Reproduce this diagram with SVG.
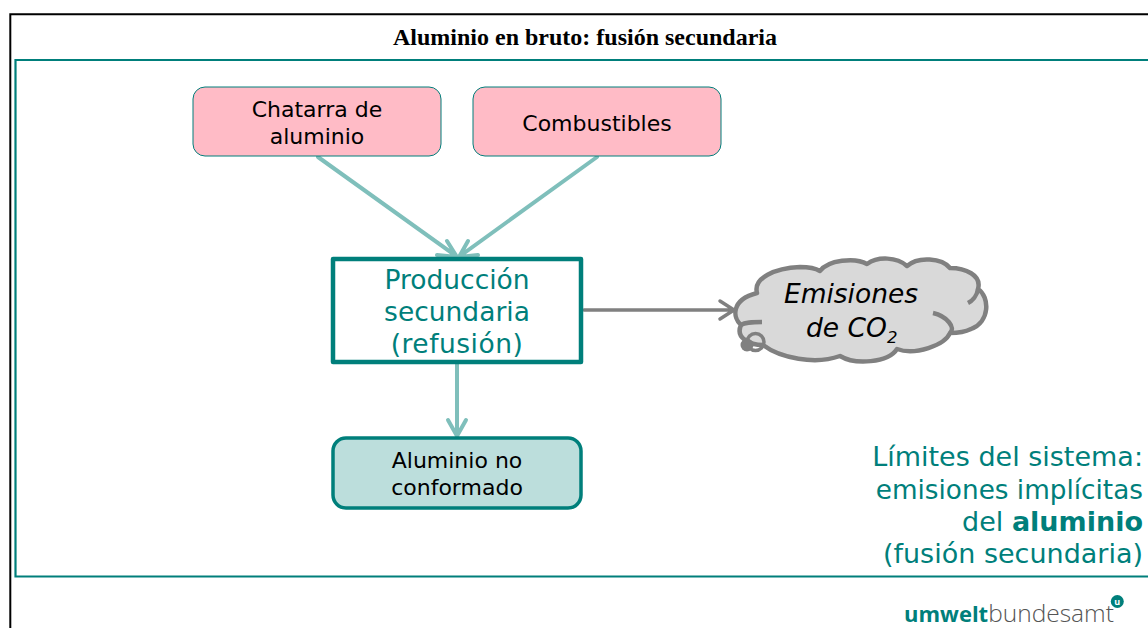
<svg xmlns="http://www.w3.org/2000/svg" width="1148" height="628" viewBox="0 0 1148 628">
<style>
.v{font-family:"DejaVu Sans",Verdana,sans-serif}
.c{text-anchor:middle}
.input{fill:#ffbbc6;stroke:#007f7b;stroke-width:1}
.a1{fill:none;stroke:#7fbfbb;stroke-width:4;stroke-linecap:round;stroke-linejoin:round}
.a2{fill:none;stroke:#808080;stroke-width:3.500;stroke-linecap:round;stroke-linejoin:round}
.teal{fill:#007f7b}
</style>
<rect width="1148" height="628" fill="#fff"/>
<path d="M10.300 628V14.300H1148" fill="none" stroke="#000" stroke-width="2"/>
<text x="585" y="45" class="c" font-family="Liberation Serif" font-weight="bold" font-size="24">Aluminio en bruto: fusión secundaria</text>
<path d="M1148 60H15.500V576.500H1148" fill="none" stroke="#007f7b" stroke-width="2.200"/>
<g id="connectors">
<path class="a1" d="M318 157L456 256M447 241L457 257L437 255"/>
<path class="a1" d="M597 157L460 256M468 241L459 257L478 255"/>
<path class="a1" d="M457 364V435M448 420L457 436L466 420"/>
<path class="a2" d="M584 310H733M720 301L734 310L720 319"/>
</g>
<g id="node-chatarra"><rect class="input" x="193" y="87" width="248" height="69" rx="12"/>
<text class="v c" font-size="22" x="317" y="117">Chatarra de</text><text class="v c" font-size="22" x="317" y="144">aluminio</text></g>
<g id="node-combustibles"><rect class="input" x="473" y="87" width="248" height="69" rx="12"/>
<text class="v c" font-size="22" x="597" y="131">Combustibles</text></g>
<g id="node-produccion"><rect x="333" y="259" width="248" height="103" fill="#fff" stroke="#007f7b" stroke-width="4.500" stroke-linejoin="round"/>
<g class="v c teal" font-size="26.500"><text x="457" y="289">Producción</text><text x="457" y="321">secundaria</text><text x="457" y="353" letter-spacing="0.500">(refusión)</text></g></g>
<g id="node-aluminio"><rect x="333" y="438" width="248" height="70" rx="13" fill="#bcdedc" stroke="#007f7b" stroke-width="3.500"/>
<text class="v c" font-size="22" x="457" y="468">Aluminio no</text><text class="v c" font-size="22" x="457" y="495">conformado</text></g>
<g id="node-emisiones">
<path d="M757 293C753 278 775 268 800 267C808 267 815 268 820 271C828 260 855 257 867 264C878 256 897 257 907 266C918 256 942 258 950 268C965 268 982 275 978 289C990 297 990 322 971 329C965 332 957 333 950 333C945 345 915 356 897 349C888 363 855 365 840 356C815 365 780 358 763 345C750 345 735 338 741 325C733 318 730 300 757 293Z" fill="#d9d9d9" stroke="#808080" stroke-width="4.500" stroke-linejoin="round"/>
<path d="M978 289C977 296 972 301 968 303M933 313C947 316 956 328 950 333M741 325C745 322 752 322 762 322" fill="none" stroke="#808080" stroke-width="4.500"/>
<circle cx="747" cy="345" r="6.500" fill="#808080"/><circle cx="755.500" cy="342" r="8.500" fill="none" stroke="#808080" stroke-width="3.500"/>
<text class="v c" font-style="italic" font-size="26.500" x="851" y="303">Emisiones</text>
<text class="v" font-style="italic" font-size="26.500" x="806" y="337">de CO<tspan font-size="16.500" dy="6">2</tspan></text>
</g>
<g class="v teal" font-size="27" text-anchor="end">
<text x="1143" y="466">Límites del sistema:</text>
<text x="1143" y="499" font-size="26.300">emisiones implícitas</text>
<text x="1143" y="531">del <tspan font-weight="bold">aluminio</tspan></text>
<text x="1143" y="563">(fusión secundaria)</text>
</g>
<g id="logo"><text x="904" y="622" font-family="Open Sans" font-size="22"><tspan font-weight="bold" fill="#007f7b">umwelt</tspan><tspan fill="#555" font-weight="300" font-size="24.500">bundesamt</tspan></text>
<circle cx="1117.300" cy="601.500" r="6.500" fill="#007f7b"/><text x="1117.300" y="604.500" font-family="Open Sans" font-weight="bold" font-size="9" fill="#fff" text-anchor="middle">u</text></g>
</svg>
